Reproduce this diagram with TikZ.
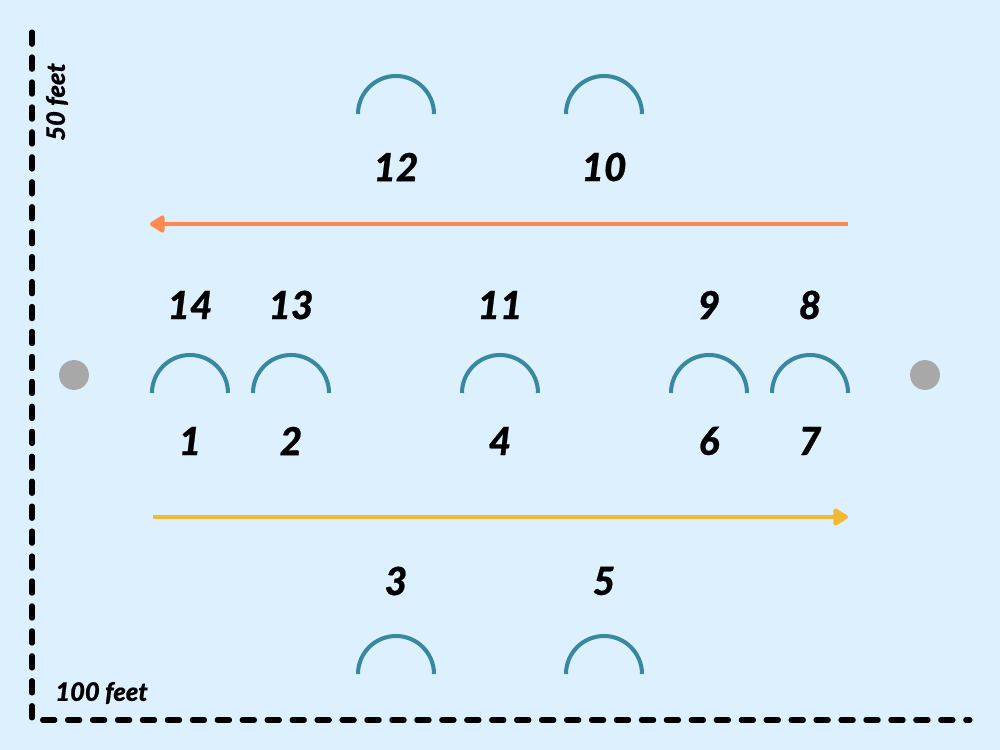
\documentclass[tikz,border=0pt]{standalone}
\usepackage{fontspec}
\setmainfont{Lato}
\newfontfamily\heavyfont{Lato Black Italic}[FakeBold=0.6]
\usetikzlibrary{arrows.meta}
\definecolor{bg}{RGB}{221,240,253}
\definecolor{arcc}{RGB}{56,136,160}
\definecolor{orng}{RGB}{255,138,80}
\definecolor{yell}{RGB}{242,186,50}
\definecolor{dotc}{RGB}{168,168,168}
\tikzset{
  axis/.style={line width=2.9pt, line cap=round, dash pattern=on 7pt off 7.2pt},
  goal/.style={draw=arcc, line width=2.3pt},
  num/.style={font=\fontsize{22}{25}\heavyfont, inner sep=0pt},
  lab/.style={font=\fontsize{14.5}{16}\heavyfont, inner sep=0pt},
  flow/.style={line width=2.7pt, -{Triangle[length=9.5pt,width=11pt,round]}},
  post/.style={circle, fill=dotc, minimum size=17pt, inner sep=0pt},
}
\begin{document}
\begin{tikzpicture}[x=0.02cm,y=-0.02cm]
\fill[bg] (0,0) rectangle (1000,750);
\useasboundingbox (0,0) rectangle (1000,750);
% axes
\coordinate (top) at (32,32);
\coordinate (corner) at (32,720);
\coordinate (right) at (970,720);
\draw[axis] (top) -- (corner) -- (right);
\node[lab, rotate=90] (h) at (57,102) {50 feet};
\node[lab, anchor=west] (w) at (55,693) {100 feet};
% posts
\node[post] (pl) at (74,375) {};
\node[post] (pr) at (925,375) {};
% arcs (center x, base y)
\foreach \n/\x/\y in {a1/190/393, a2/291/393, a4/500/393, a6/709/393, a7/810/393, a12/396/114, a10/604/114, a3/396/674, a5/604/674}{
  \draw[goal] (\x-38,\y) arc[start angle=180, end angle=360, radius=38];
}
% numbers
\foreach \t/\x/\y in {12/396/167, 10/604/167, 14/190/305, 13/291/305, 11/500/305, 9/709/305, 8/810/305, 1/190/441, 2/291/441, 4/500/441, 6/709/441, 7/810/441, 3/396/581, 5/604/581}{
  \node[num] (n\t) at (\x,\y) {\t};
}
% arrows
\coordinate (os) at (848,224);
\coordinate (oe) at (150,224);
\draw[flow, draw=orng, fill=orng] (os) -- (oe);
\coordinate (ys) at (153,517);
\coordinate (ye) at (848,517);
\draw[flow, draw=yell, fill=yell] (ys) -- (ye);
\end{tikzpicture}
\end{document}
